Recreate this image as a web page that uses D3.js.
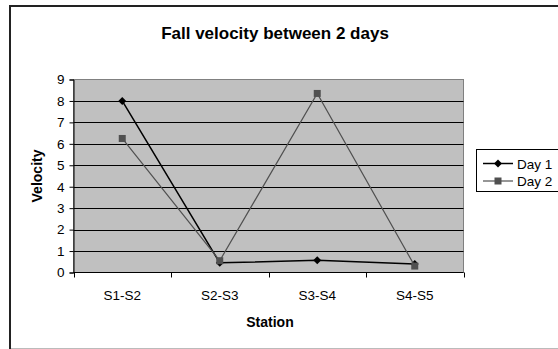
<!DOCTYPE html>
<html>
<head>
<meta charset="utf-8">
<script src="https://cdn.jsdelivr.net/npm/d3@7"></script>
<style>
  html, body { margin: 0; padding: 0; background: #fff; }
  svg { display: block; font-family: Arial, "Liberation Sans", sans-serif; }
</style>
</head>
<body>
<svg id="chart" width="558" height="349"></svg>
<script>
// Station segments along the x axis
const stations = ["S1-S2", "S2-S3", "S3-S4", "S4-S5"];
// Fall velocity measured on each day
const day1 = [8.0, 0.45, 0.57, 0.4];
const day2 = [6.25, 0.55, 8.35, 0.3];
const yTicks = [0, 1, 2, 3, 4, 5, 6, 7, 8, 9];
const seriesNames = ["Day 1", "Day 2"];

const svg = d3.select("#chart");
const W = 558, H = 349;
const plot = { left: 73.5, right: 463.5, top: 79.5, bottom: 272.5 };
const FONT = 13.5;

// Chart frame
svg.append("rect").attr("x", 0).attr("y", 0).attr("width", W).attr("height", H).attr("fill", "#fff");
svg.append("line").attr("x1", 10).attr("x2", 10).attr("y1", 5).attr("y2", 349)
  .attr("stroke", "#222").attr("stroke-width", 2);
svg.append("line").attr("x1", 9).attr("x2", 558).attr("y1", 6).attr("y2", 6)
  .attr("stroke", "#222").attr("stroke-width", 2);
svg.append("line").attr("x1", 11).attr("x2", 558).attr("y1", 348.5).attr("y2", 348.5)
  .attr("stroke", "#bbb").attr("stroke-width", 1);

const x = d3.scaleBand().domain(stations).range([plot.left, plot.right]).padding(0);
const y = d3.scaleLinear().domain([0, 9]).range([plot.bottom, plot.top]);

// Plot area
svg.append("rect")
  .attr("x", plot.left).attr("y", plot.top)
  .attr("width", plot.right - plot.left).attr("height", plot.bottom - plot.top)
  .attr("fill", "#c0c0c0").attr("stroke", "#808080").attr("stroke-width", 1);

// Horizontal gridlines
svg.append("g").selectAll("line").data(yTicks.filter(d => d > 0 && d < 9)).join("line")
  .attr("x1", plot.left).attr("x2", plot.right)
  .attr("y1", d => Math.round(y(d)) + 0.5).attr("y2", d => Math.round(y(d)) + 0.5)
  .attr("stroke", "#000").attr("stroke-width", 1);

// Y axis
const yAxis = svg.append("g").attr("transform", `translate(${plot.left},0)`)
  .call(d3.axisLeft(y).tickValues(yTicks).tickSize(4).tickPadding(5).tickFormat(d3.format("d")));
yAxis.select(".domain").attr("stroke", "#000");
yAxis.selectAll(".tick line").attr("stroke", "#000");
yAxis.selectAll("text").attr("font-size", FONT).attr("fill", "#000")
  .attr("font-family", "Arial, 'Liberation Sans', sans-serif");

// X axis with ticks on band boundaries
const xAxisG = svg.append("g").attr("transform", `translate(0,${plot.bottom})`);
xAxisG.append("line").attr("x1", plot.left).attr("x2", plot.right).attr("y1", 0).attr("y2", 0)
  .attr("stroke", "#000");
const bounds = stations.map(s => x(s)).concat([plot.right]);
xAxisG.selectAll("line.tk").data(bounds).join("line").attr("class", "tk")
  .attr("x1", d => Math.round(d) + 0.5).attr("x2", d => Math.round(d) + 0.5)
  .attr("y1", 0).attr("y2", 5).attr("stroke", "#000");
xAxisG.selectAll("text").data(stations).join("text")
  .attr("x", d => x(d) + x.bandwidth() / 2).attr("y", 27)
  .attr("text-anchor", "middle").attr("font-size", FONT).attr("fill", "#000")
  .text(d => d);

// Titles
svg.append("text").attr("x", 275).attr("y", 39).attr("text-anchor", "middle")
  .attr("font-size", 17).attr("font-weight", "bold").text("Fall velocity between 2 days");
svg.append("text").attr("x", 270).attr("y", 327).attr("text-anchor", "middle")
  .attr("font-size", 14).attr("font-weight", "bold").text("Station");
svg.append("text").attr("transform", `translate(42,${(plot.top + plot.bottom) / 2}) rotate(-90)`)
  .attr("text-anchor", "middle").attr("font-size", 14).attr("font-weight", "bold").text("Velocity");

const cx = d => x(d) + x.bandwidth() / 2;
const line = d3.line().x(d => cx(d.s)).y(d => y(d.v));
const toPts = arr => stations.map((s, i) => ({ s, v: arr[i] }));

const styles = [
  { color: "#000", marker: "diamond" },
  { color: "#505050", marker: "square" }
];
const data = [toPts(day1), toPts(day2)];

function drawMarker(g, type, color, px, py) {
  if (type === "diamond") {
    g.append("path").attr("d", d3.symbol(d3.symbolDiamond2, 40)())
      .attr("transform", `translate(${px},${py})`).attr("fill", color);
  } else {
    g.append("rect").attr("x", px - 3.5).attr("y", py - 3.5).attr("width", 7).attr("height", 7)
      .attr("fill", color);
  }
}

// Series: draw Day 1 first, Day 2 on top
data.forEach((pts, i) => {
  const g = svg.append("g");
  g.append("path").datum(pts).attr("d", line).attr("fill", "none")
    .attr("stroke", styles[i].color).attr("stroke-width", i === 0 ? 1.5 : 1.2);
  pts.forEach(p => drawMarker(g, styles[i].marker, styles[i].color, cx(p.s), y(p.v)));
});

// Legend
const lg = svg.append("g");
lg.append("rect").attr("x", 476.5).attr("y", 149.5).attr("width", 100).attr("height", 42)
  .attr("fill", "#fff").attr("stroke", "#000");
seriesNames.forEach((n, i) => {
  const ly = 163.5 + i * 17.5;
  lg.append("line").attr("x1", 483).attr("x2", 513).attr("y1", ly).attr("y2", ly)
    .attr("stroke", styles[i].color).attr("stroke-width", i === 0 ? 1.5 : 1.2);
  drawMarker(lg, styles[i].marker, styles[i].color, 498, ly);
  lg.append("text").attr("x", 517).attr("y", ly + 5).attr("font-size", FONT).text(n);
});
</script>
</body>
</html>
